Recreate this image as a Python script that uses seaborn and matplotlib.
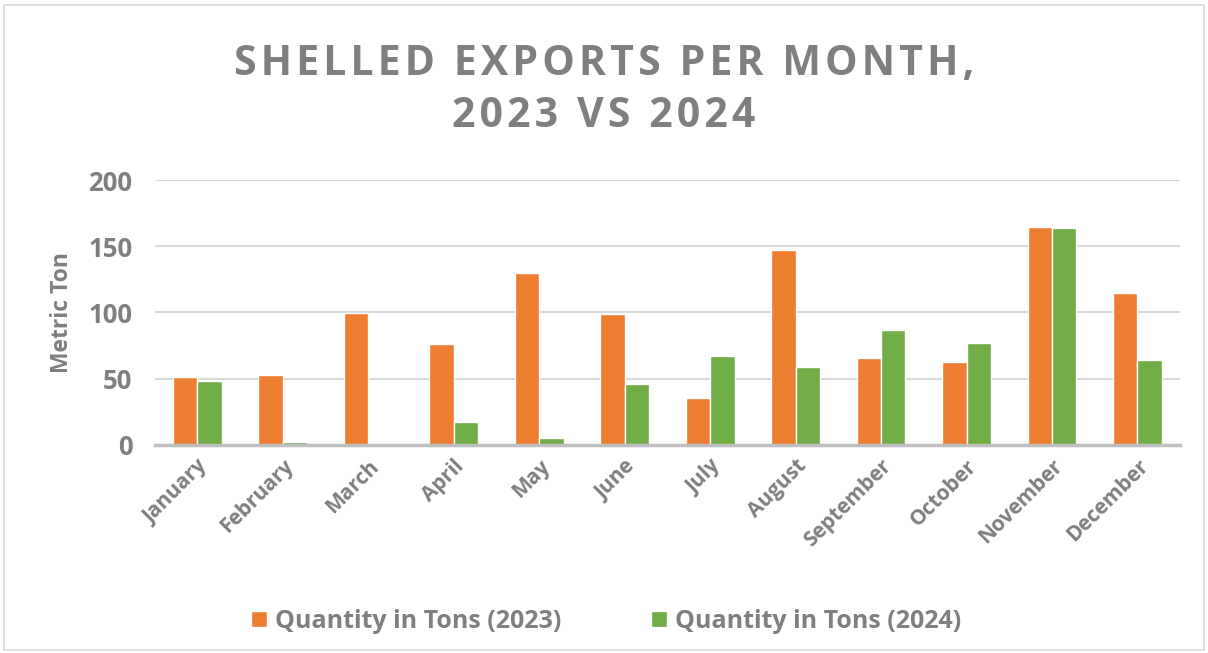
import matplotlib
matplotlib.use("Agg")
import matplotlib.pyplot as plt
import seaborn as sns
import pandas as pd
from matplotlib.patches import Rectangle

sns.set_theme(style="white")
plt.rcParams['font.family'] = ['Open Sans', 'DejaVu Sans']

# ------------------------------
# Data
# ------------------------------
months = ["January", "February", "March", "April", "May", "June",
          "July", "August", "September", "October", "November", "December"]
qty_2023 = [51.5, 52.5, 99.7, 76, 129.5, 98.7, 35.2, 147.5, 65.8, 62.3, 164.6, 114.6]
qty_2024 = [48.2, 2, 0.8, 17, 5, 45.7, 67, 59, 86.4, 76.6, 163.6, 63.8]
series_names = ["Quantity in Tons (2023)", "Quantity in Tons (2024)"]

df = pd.DataFrame({
    "Month": months * 2,
    "Tons": qty_2023 + qty_2024,
    "Series": [series_names[0]] * len(months) + [series_names[1]] * len(months),
})

grey = "#7f7f7f"
palette = {series_names[0]: "#ed7d31", series_names[1]: "#70ad47"}

fig = plt.figure(figsize=(12.08, 6.53), dpi=100)
ax = fig.add_axes([0.128, 0.319, 0.849, 0.405])

sns.barplot(data=df, x="Month", y="Tons", hue="Series", palette=palette,
            width=0.57, saturation=1, ax=ax, legend=True, zorder=3)

ax.set_ylim(0, 200)
ax.set_yticks([0, 50, 100, 150, 200])
ax.grid(axis="y", color="#d9d9d9", linewidth=1.5, zorder=0)
ax.set_axisbelow(True)
for side in ["top", "right", "left"]:
    ax.spines[side].set_visible(False)
ax.spines["bottom"].set_color("#bfbfbf")
ax.spines["bottom"].set_linewidth(2.5)
ax.spines["bottom"].set_zorder(4)

ax.tick_params(axis="both", length=0)
ax.tick_params(axis="y", labelsize=18.5, labelcolor=grey, pad=16)
ax.tick_params(axis="x", labelsize=15, labelcolor=grey, pad=8)
for lbl in ax.get_yticklabels():
    lbl.set_fontweight("bold")
for lbl in ax.get_xticklabels():
    lbl.set_fontweight("bold")
    lbl.set_rotation(45)
    lbl.set_ha("right")
    lbl.set_rotation_mode("anchor")

ax.set_xlabel("")
ax.set_ylabel("Metric Ton", fontsize=16.5, fontweight="bold", color=grey, labelpad=10)

ax.legend(loc="upper center", bbox_to_anchor=(0.44, -0.535), ncol=2, frameon=False,
          handlelength=0.65, handleheight=0.65, columnspacing=3.6,
          handletextpad=0.3, labelcolor=grey, prop={"weight": "bold", "size": 18})

title = "\u200a".join("SHELLED EXPORTS PER MONTH,") + "\n" + "\u200a".join("2023 VS 2024")
fig.text(0.5, 0.933, title, ha="center", va="top", fontsize=29.5,
         fontweight="bold", color=grey, linespacing=1.36)

fig.patches.append(Rectangle((0.003, 0.005), 0.994, 0.988, transform=fig.transFigure,
                             fill=False, edgecolor="#d9d9d9", linewidth=1.2))

fig.savefig("out.png", dpi=100)
